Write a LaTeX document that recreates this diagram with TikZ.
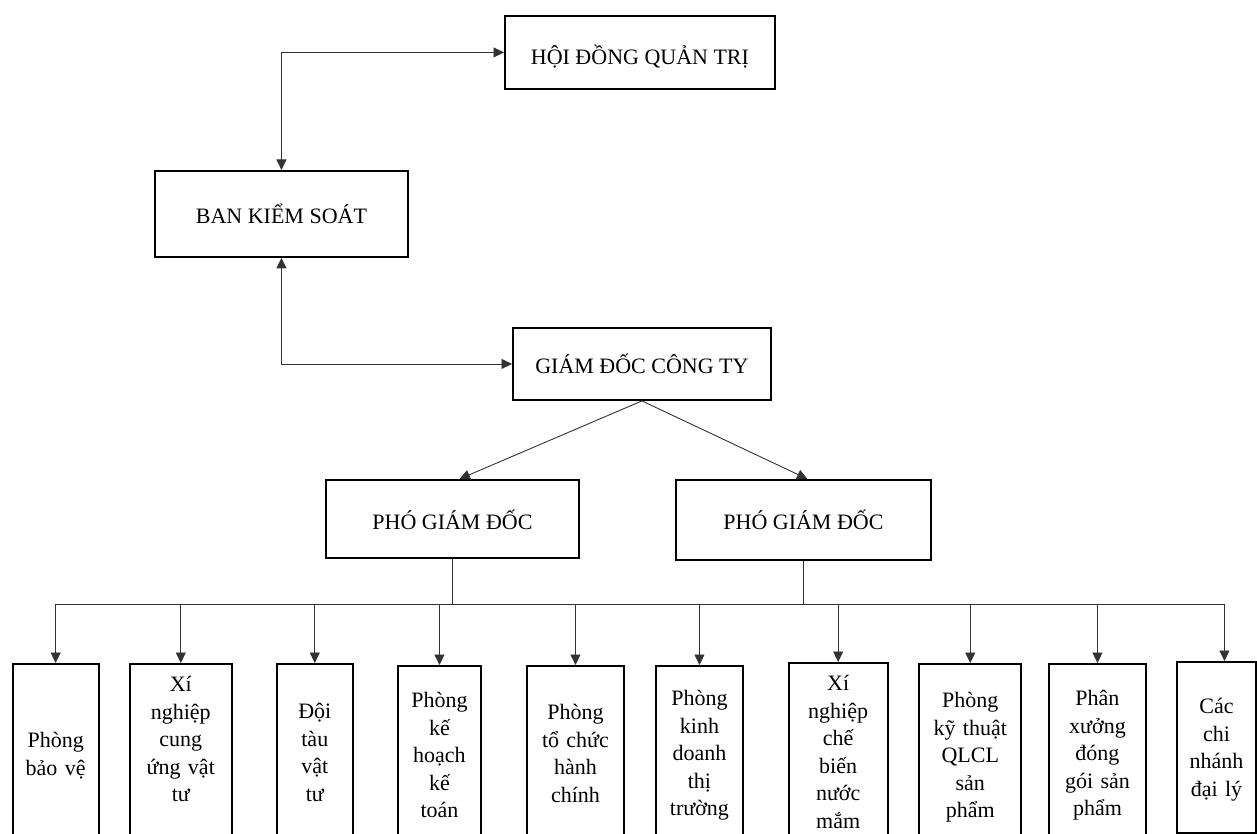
\documentclass[tikz,border=0pt]{standalone}
\usepackage{fontspec}
\setmainfont{Liberation Serif}
\usetikzlibrary{arrows.meta,calc}
\begin{document}
\begin{tikzpicture}[x=1pt,y=-1pt,
  box/.style={draw, line width=1.9pt, inner sep=0pt, anchor=north west, font=\fontsize{22}{27.5}\selectfont, text depth=0pt},
  unit/.style={box, align=center, text height=0pt, minimum height=180pt},
  conn/.style={line width=0.9pt, draw=black!80},
  arr/.style={conn, -{Triangle[length=10.5pt,width=10pt]}},
  arrr/.style={conn, {Triangle[length=10.5pt,width=10pt]}-{Triangle[length=10.5pt,width=10pt]}}
]
\useasboundingbox (0,0) rectangle (1257,834);
\fill[white] (0,0) rectangle (1257,834);

% upper boxes
\node[box, minimum width=270pt, minimum height=73pt, text height=25pt] (hdqt) at (504,15) {HỘI ĐỒNG QUẢN TRỊ};
\node[box, minimum width=253pt, minimum height=86pt, text height=19.4pt] (bks) at (154,170) {BAN KIỂM SOÁT};
\node[box, minimum width=258pt, minimum height=72pt, text height=19.4pt] (gd) at (512,327) {GIÁM ĐỐC CÔNG TY};
\node[box, minimum width=253pt, minimum height=78pt, text height=20.6pt] (pgd1) at (325,479) {PHÓ GIÁM ĐỐC};
\node[box, minimum width=255pt, minimum height=80pt, text height=19pt] (pgd2) at (675,479) {PHÓ GIÁM ĐỐC};

% lower units
\node[unit, minimum width=86pt, text width=78pt, text depth=12pt] (b1) at (11.7,663) {Phòng\\bảo vệ};
\node[unit, minimum width=101.7pt, text width=93pt, text depth=124pt] (b2) at (129,663) {Xí\\nghiệp\\cung\\ứng vật\\tư};
\node[unit, minimum width=75.7pt, text width=67pt, text depth=70pt] (b3) at (276,663) {Đội\\tàu\\vật\\tư};
\node[unit, minimum width=83.6pt, text width=75pt, text depth=96pt] (b4) at (396.7,665) {Phòng\\kế\\hoạch\\kế\\toán};
\node[unit, minimum width=97.6pt, text width=89pt, text depth=72pt] (b5) at (525.7,665) {Phòng\\tổ chức\\hành\\chính};
\node[unit, minimum width=87.6pt, text width=79pt, text depth=100pt] (b6) at (654.7,665) {Phòng\\kinh\\doanh\\thị\\trường};
\node[unit, minimum width=99pt, text width=91pt, text depth=124pt] (b7) at (787.7,662) {Xí\\nghiệp\\chế\\biến\\nước\\mắm};
\node[unit, minimum width=102pt, text width=94pt, text depth=92pt] (b8) at (918.3,663) {Phòng\\kỹ thuật\\QLCL\\sản\\phẩm};
\node[unit, minimum width=97pt, text width=89pt, text depth=96pt] (b9) at (1048,663) {Phân\\xưởng\\đóng\\gói sản\\phẩm};
\node[unit, minimum width=79pt, minimum height=171pt, text width=71pt, text depth=67pt] (b10) at (1176,661) {Các\\chi\\nhánh\\đại lý};

% connectors
\draw[arrr] (bks.north) |- (hdqt.west);
\draw[arrr] (bks.south) |- (gd.west);
\draw[arr] (gd.south) -- ($(pgd1.north)+(7,0)$);
\draw[arr] (gd.south) -- ($(pgd2.north)+(4,0)$);
\coordinate (bus) at (0,604);
\coordinate (b10in) at ($(b10.north)+(8,0)$);
\draw[conn] (pgd1.south) -- (pgd1.south |- bus);
\draw[conn] (pgd2.south) -- (pgd2.south |- bus);
\draw[conn] (b1.north |- bus) -- (b10in |- bus);
\foreach \i in {1,...,9} \draw[arr] (b\i.north |- bus) -- (b\i.north);
\draw[arr] (b10in |- bus) -- (b10in);
\end{tikzpicture}
\end{document}
